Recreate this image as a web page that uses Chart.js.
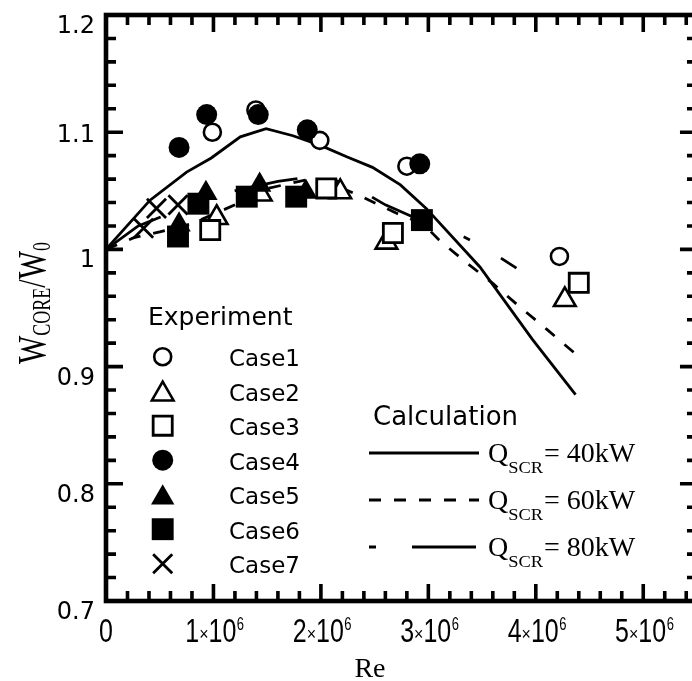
<!DOCTYPE html>
<html>
<head>
<meta charset="utf-8">
<script src="https://cdn.jsdelivr.net/npm/chart.js@4.4.0/dist/chart.umd.min.js"></script>
<style>
  html, body { margin: 0; padding: 0; background: #fff; overflow: hidden; }
  canvas { display: block; }
</style>
</head>
<body>
<canvas id="c" width="692" height="681" style="width:692px;height:681px"></canvas>
<script>
// Experimental points: Reynolds number and normalised core flow
const case1Re = [0.99e6, 1.395e6, 1.99e6, 2.80e6, 4.22e6];
const case1W  = [1.100, 1.119, 1.093, 1.071, 0.994];
const case2Re = [1.03e6, 1.44e6, 2.18e6, 2.61e6, 4.27e6];
const case2W  = [1.027, 1.047, 1.049, 1.006, 0.957];
const case3Re = [0.97e6, 2.05e6, 2.67e6, 4.40e6];
const case3W  = [1.0165, 1.052, 1.014, 0.9715];
const case4Re = [0.68e6, 0.937e6, 1.417e6, 1.873e6, 2.92e6];
const case4W  = [1.087, 1.115, 1.115, 1.102, 1.073];
const case5Re = [0.68e6, 0.93e6, 1.43e6, 1.86e6];
const case5W  = [1.021, 1.048, 1.055, 1.049];
const case6Re = [0.67e6, 0.86e6, 1.31e6, 1.77e6, 2.94e6];
const case6W  = [1.011, 1.039, 1.045, 1.045, 1.025];
const case7Re = [0.35e6, 0.47e6, 0.67e6];
const case7W  = [1.018, 1.035, 1.038];

// Calculated curves for three SCR heat inputs
const q40Re = [0, 0.41e6, 0.75e6, 0.98e6, 1.25e6, 1.49e6, 1.74e6, 1.99e6, 2.24e6, 2.48e6, 2.74e6, 2.98e6, 3.48e6, 3.97e6, 4.37e6];
const q40W  = [1.0, 1.042, 1.066, 1.078, 1.096, 1.103, 1.097, 1.089, 1.079, 1.070, 1.055, 1.035, 0.985, 0.923, 0.876];
const q60Re = [0, 0.26e6, 0.5e6, 0.8e6, 1.0e6, 1.3e6, 1.5e6, 1.9e6, 2.1e6, 2.38e6, 2.7e6, 2.95e6, 3.1e6, 3.35e6, 3.6e6, 3.85e6, 4.1e6, 4.38e6];
const q60W  = [1.0, 1.01, 1.015, 1.022, 1.03, 1.042, 1.052, 1.06, 1.056, 1.045, 1.031, 1.022, 1.008, 0.989, 0.971, 0.951, 0.932, 0.910];
const q80Re = [0, 0.3e6, 0.6e6, 0.8e6, 1.0e6, 1.3e6, 1.6e6, 1.9e6, 2.1e6, 2.3e6, 2.6e6, 2.9e6, 3.3e6, 3.5e6, 3.82e6];
const q80W  = [1.0, 1.02, 1.031, 1.041, 1.046, 1.052, 1.058, 1.062, 1.06, 1.054, 1.038, 1.026, 1.012, 1.003, 0.984];

// Axis ticks
const yTickValues = [0.7, 0.8, 0.9, 1.0, 1.1, 1.2];
const yTickLabels = ['0.7', '0.8', '0.9', '1', '1.1', '1.2'];
const xTickValues = [0, 1e6, 2e6, 3e6, 4e6, 5e6];
const xTickMantissa = ['0', '1', '2', '3', '4', '5'];
const xFrameMax = 5.5e6;

const caseNames = ['Case1', 'Case2', 'Case3', 'Case4', 'Case5', 'Case6', 'Case7'];
const calcNames = ['40kW', '60kW', '80kW'];

const pts = (xs, ys) => xs.map((x, i) => ({ x: x, y: ys[i] }));

const SANS = '"DejaVu Sans", sans-serif';
const ARIAL = '"Liberation Sans", Arial, sans-serif';
const SERIF = '"Liberation Serif", "Times New Roman", serif';
const DASH60 = [12, 13];
const DASH80 = [64, 36, 7, 36];

const markerStyles = [
  { pointStyle: 'circle',   radius: 8.5, fill: '#fff', borderWidth: 2.6 },
  { pointStyle: 'triangle', radius: 12.5, fill: '#fff', borderWidth: 2.6 },
  { pointStyle: 'rect',     radius: 13.5, fill: '#fff', borderWidth: 2.8 },
  { pointStyle: 'circle',   radius: 10.5, fill: '#000', borderWidth: 0 },
  { pointStyle: 'triangle', radius: 13.5, fill: '#000', borderWidth: 0 },
  { pointStyle: 'rect',     radius: 15.5, fill: '#000', borderWidth: 0 },
  { pointStyle: 'crossRot', radius: 13.5, fill: '#000', borderWidth: 2.8 }
];

const caseData = [
  pts(case1Re, case1W), pts(case2Re, case2W), pts(case3Re, case3W), pts(case4Re, case4W),
  pts(case5Re, case5W), pts(case6Re, case6W), pts(case7Re, case7W)
];

const datasets = [];
// markers first so they sit above the curves
caseData.forEach((d, i) => {
  const m = markerStyles[i];
  datasets.push({
    label: caseNames[i],
    data: d,
    showLine: false,
    pointStyle: m.pointStyle,
    pointRadius: m.radius,
    pointHoverRadius: m.radius,
    pointBackgroundColor: m.fill,
    pointBorderColor: '#000',
    pointBorderWidth: m.borderWidth,
    order: 7 - i
  });
});
[[q40Re, q40W, []], [q60Re, q60W, DASH60], [q80Re, q80W, DASH80]].forEach((c, i) => {
  datasets.push({
    label: calcNames[i],
    data: pts(c[0], c[1]),
    showLine: true,
    borderColor: '#000',
    borderWidth: 2.8,
    borderDash: c[2],
    pointRadius: 0,
    tension: 0,
    fill: false,
    order: 20 + i
  });
});

function text(ctx, str, x, y, font, align, baseline) {
  ctx.font = font;
  ctx.textAlign = align || 'left';
  ctx.textBaseline = baseline || 'alphabetic';
  ctx.fillText(str, x, y);
}

// text stretched by sx, sy around its baseline origin
function stretchedText(ctx, str, x, y, font, sx, sy, align) {
  ctx.save();
  ctx.translate(x, y);
  ctx.scale(sx, sy);
  text(ctx, str, 0, 0, font, align || 'left');
  ctx.restore();
}

const framePlugin = {
  id: 'frame',
  beforeDatasetsDraw(chart) {
    const { ctx, chartArea: a, scales: { x, y } } = chart;
    const right = x.getPixelForValue(xFrameMax);
    ctx.save();
    ctx.strokeStyle = '#000';
    ctx.lineCap = 'butt';
    ctx.lineWidth = 3.6;
    for (let k = 0; k <= 27; k++) {
      const px = x.getPixelForValue(k * 0.2e6);
      const len = (k % 5 === 0) ? 17 : 10;
      ctx.beginPath();
      ctx.moveTo(px, a.bottom); ctx.lineTo(px, a.bottom - len);
      ctx.moveTo(px, a.top); ctx.lineTo(px, a.top + len);
      ctx.stroke();
    }
    for (let k = 0; k <= 25; k++) {
      const py = y.getPixelForValue(0.7 + k * 0.02);
      const len = (k % 5 === 0) ? 17 : 10;
      ctx.beginPath();
      ctx.moveTo(a.left, py); ctx.lineTo(a.left + len, py);
      ctx.moveTo(right, py); ctx.lineTo(right - len, py);
      ctx.stroke();
    }
    ctx.lineWidth = 4.6;
    ctx.strokeRect(a.left, a.top, right - a.left, a.bottom - a.top);
    ctx.restore();
  },
  afterDraw(chart) {
    const { ctx, scales: { x, y } } = chart;
    ctx.save();
    ctx.fillStyle = '#000';

    // y tick labels
    yTickValues.forEach((v, i) => {
      const py = y.getPixelForValue(v);
      const dy = Math.abs(v - 1.1) < 1e-9 ? 10 : 18;
      text(ctx, yTickLabels[i], 95, py + dy, '24px ' + SANS, 'right');
    });

    // x tick labels: m x 10^6, tall narrow figures
    const SY = 1.35;
    xTickValues.forEach((v, i) => {
      const px = x.getPixelForValue(v);
      const base = 642;
      const big = '25px ' + ARIAL, small = '16px ' + ARIAL, sup = '13px ' + ARIAL;
      if (v === 0) {
        stretchedText(ctx, '0', px, base, big, 1, SY, 'center');
        return;
      }
      ctx.font = big; const w1 = ctx.measureText(xTickMantissa[i]).width;
      ctx.font = small; const wx = ctx.measureText('\u00d7').width;
      ctx.font = big; const w10 = ctx.measureText('10').width;
      ctx.font = sup; const w6 = ctx.measureText('6').width;
      const total = w1 + wx + w10 + w6;
      let cx = px - total / 2 + 1;
      stretchedText(ctx, xTickMantissa[i], cx, base, big, 1, SY); cx += w1;
      stretchedText(ctx, '\u00d7', cx, base - 2, small, 1, 1.1); cx += wx;
      stretchedText(ctx, '10', cx, base, big, 1, SY); cx += w10;
      stretchedText(ctx, '6', cx + 0.5, base - 12, sup, 1, SY);
    });

    // axis titles
    text(ctx, 'Re', 370, 677, '28px ' + SERIF, 'center');
    ctx.save();
    ctx.translate(45, 303);
    ctx.rotate(-Math.PI / 2);
    const parts = [['W', 30, 0], ['CORE', 18, 5], ['/W', 30, 0], ['0', 18, 5]];
    let tw = 0;
    parts.forEach(p => { ctx.font = p[1] + 'px ' + SERIF; tw += ctx.measureText(p[0]).width; });
    let tx = -tw / 2;
    parts.forEach(p => {
      ctx.font = p[1] + 'px ' + SERIF;
      const w = ctx.measureText(p[0]).width;
      stretchedText(ctx, p[0], tx, p[2], p[1] + 'px ' + SERIF, 1, 1.35);
      tx += w;
    });
    ctx.restore();

    // experiment legend
    text(ctx, 'Experiment', 148, 325, '25px ' + SANS);
    const rowY = [356.7, 391.2, 425.7, 460.2, 494.7, 529.2, 563.7];
    markerStyles.forEach((m, i) => {
      ctx.save();
      ctx.fillStyle = m.fill; ctx.strokeStyle = '#000'; ctx.lineWidth = m.borderWidth;
      Chart.helpers.drawPoint(ctx, {
        pointStyle: m.pointStyle, radius: m.radius, rotation: 0, borderWidth: m.borderWidth
      }, 162.7, rowY[i] + (m.pointStyle === 'triangle' ? 3 : 0));
      ctx.restore();
      text(ctx, caseNames[i], 229, rowY[i] + 9.3, '23px ' + SANS);
    });

    // calculation legend
    text(ctx, 'Calculation', 373, 425, '26px ' + SANS);
    const lineY = [453, 500, 547];
    const dashes = [[], DASH60, DASH80];
    const offs = [0, 0, 100];
    lineY.forEach((ly, i) => {
      ctx.save();
      ctx.strokeStyle = '#000'; ctx.lineWidth = 2.8;
      ctx.setLineDash(dashes[i]); ctx.lineDashOffset = offs[i];
      ctx.beginPath(); ctx.moveTo(369, ly); ctx.lineTo(479, ly); ctx.stroke();
      ctx.restore();
      let lx = 488;
      text(ctx, 'Q', lx, ly + 9, '28px ' + SERIF);
      lx += ctx.measureText('Q').width;
      ctx.font = '16px ' + SERIF;
      const ws = ctx.measureText('SCR').width * 1.15;
      stretchedText(ctx, 'SCR', lx, ly + 20, '16px ' + SERIF, 1.15, 1);
      lx += ws + 1;
      text(ctx, '= ' + calcNames[i], lx, ly + 9, '28px ' + SERIF);
    });
    ctx.restore();
  }
};

new Chart(document.getElementById('c').getContext('2d'), {
  type: 'scatter',
  data: { datasets: datasets },
  options: {
    responsive: false,
    animation: false,
    devicePixelRatio: 1,
    layout: { autoPadding: false, padding: { left: 106, top: 15, right: 0, bottom: 80 } },
    scales: {
      // the frame closes at 5.5e6, just past the visible right edge
      x: { type: 'linear', min: 0, max: 5.4537e6, display: false },
      y: { type: 'linear', min: 0.7, max: 1.2, display: false }
    },
    plugins: { legend: { display: false }, tooltip: { enabled: false } }
  },
  plugins: [framePlugin]
});
</script>
</body>
</html>
